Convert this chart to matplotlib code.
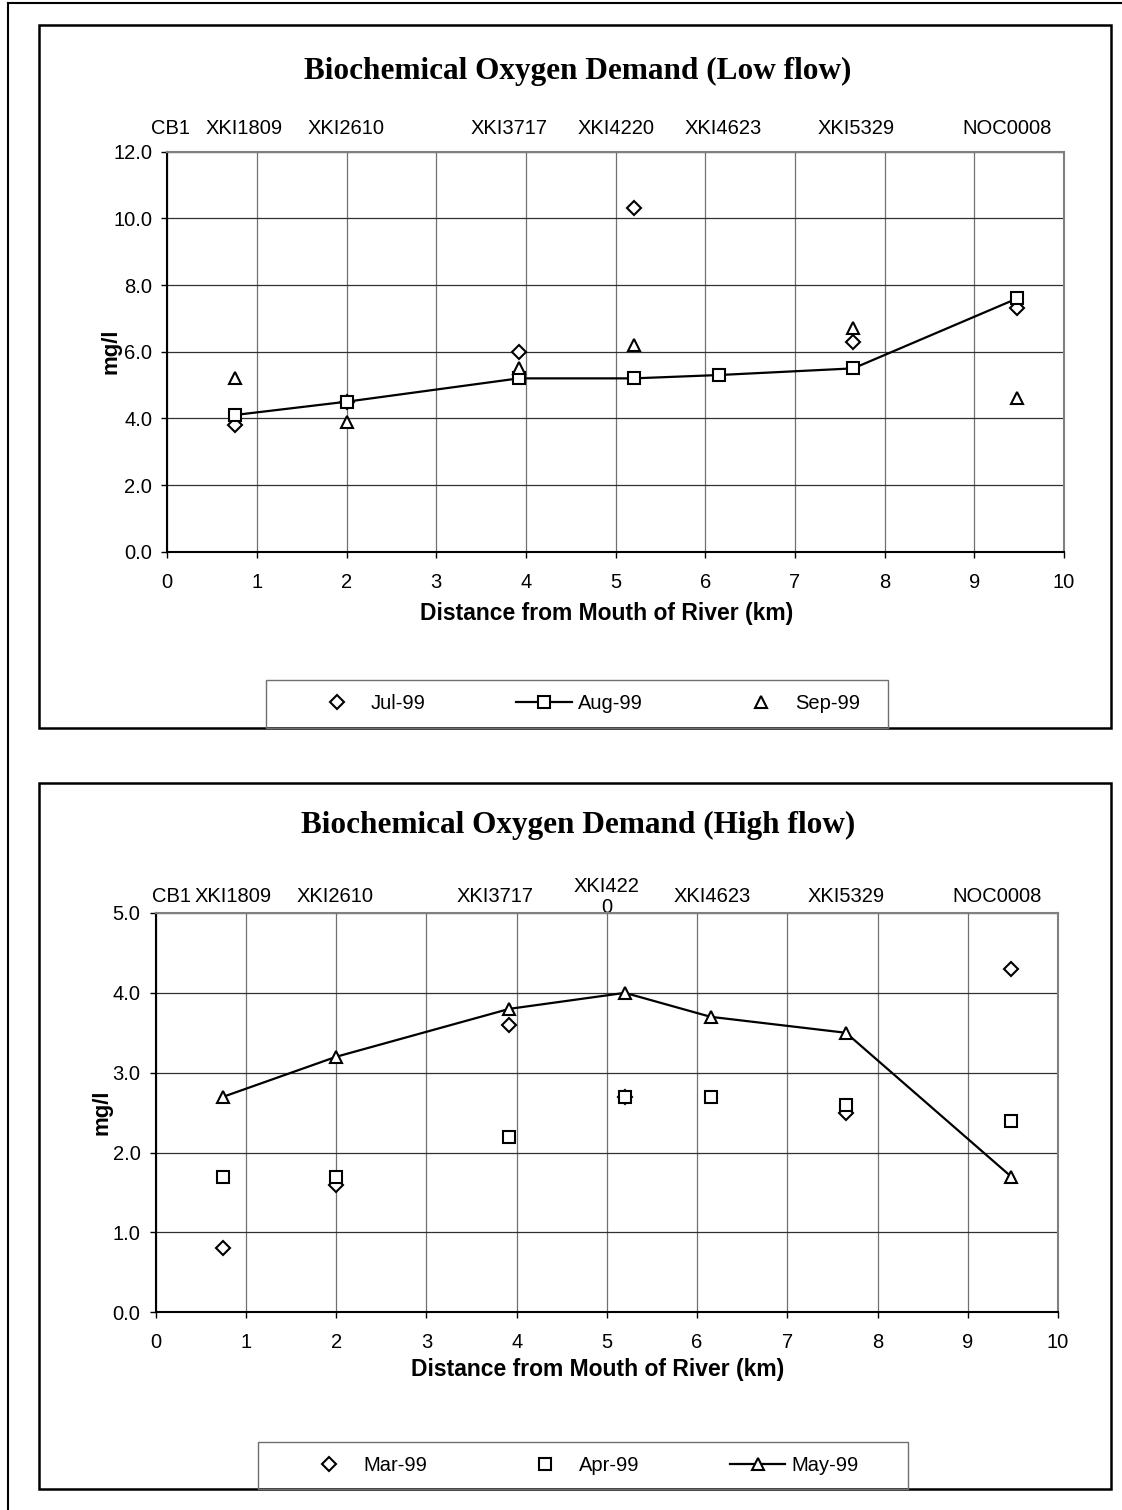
import matplotlib
matplotlib.use("Agg")
import matplotlib.pyplot as plt
import matplotlib.transforms as mtransforms
from matplotlib.patches import Rectangle
from matplotlib.lines import Line2D
import numpy as np

W, H, DPI = 1122, 1510, 100

# ---------------- data ----------------
station_km = [0.75, 2.0, 3.92, 5.2, 6.15, 7.65, 9.48]

low_jul = [3.8, 4.5, 6.0, 10.3, np.nan, 6.3, 7.3]
low_aug = [4.1, 4.5, 5.2, 5.2, 5.3, 5.5, 7.6]
low_sep = [5.2, 3.9, 5.5, 6.2, np.nan, 6.7, 4.6]

high_mar = [0.8, 1.6, 3.6, 2.7, np.nan, 2.5, 4.3]
high_apr = [1.7, 1.7, 2.2, 2.7, 2.7, 2.6, 2.4]
high_may = [2.7, 3.2, 3.8, 4.0, 3.7, 3.5, 1.7]

low_labels = ["CB1", "XKI1809", "XKI2610", "XKI3717", "XKI4220", "XKI4623", "XKI5329", "NOC0008"]
low_label_km = [0.04, 0.86, 1.99, 3.81, 5.0, 6.2, 7.68, 9.37]
high_labels = ["CB1", "XKI1809", "XKI2610", "XKI3717", "XKI422\n0", "XKI4623", "XKI5329", "NOC0008"]
high_label_km = [0.17, 0.86, 1.99, 3.76, 5.0, 6.17, 7.65, 9.33]

low_title = "Biochemical Oxygen Demand (Low flow)"
high_title = "Biochemical Oxygen Demand (High flow)"
xlabel = "Distance from Mouth of River (km)"
ylabel = "mg/l"

SANS = "Liberation Sans"
SERIF = "Liberation Serif"
plt.rcParams["font.family"] = SANS

fig = plt.figure(figsize=(W / DPI, H / DPI), dpi=DPI)


def fx(x):
    return x / W


def fy(y):
    return 1 - y / H


def rect_px(x0, y0, x1, y1):
    return [fx(x0), fy(y1), (x1 - x0) / W, (y1 - y0) / H]


# outer page frame (left and top edges)
fig.add_artist(Line2D([fx(7.5), fx(7.5)], [fy(3.3), 0], transform=fig.transFigure,
                      color="black", lw=1.5))
fig.add_artist(Line2D([fx(7.5), 1], [fy(3.3), fy(3.3)], transform=fig.transFigure,
                      color="black", lw=1.5))

STY = dict(color="black", mec="black", mfc="white", mew=1.5)


def make_chart(box, axpos, ymax, ystep, series, title, title_y, labels, label_km,
               label_y, xlab_y, ylab_x, legbox, leg_start):
    # chart box
    bx0, by0, bx1, by1 = box
    fig.add_artist(Rectangle((fx(bx0), fy(by1)), (bx1 - bx0) / W, (by1 - by0) / H,
                             transform=fig.transFigure, fill=False, ec="black", lw=1.8))
    ax = fig.add_axes(rect_px(*axpos))
    ax.set_xlim(0, 10)
    ax.set_ylim(0, ymax)
    ax.set_xticks(np.arange(0, 11, 1))
    ax.set_yticks(np.arange(0, ymax + 0.001, ystep))
    ax.set_yticklabels([f"{v:.1f}" for v in np.arange(0, ymax + 0.001, ystep)])
    ax.xaxis.grid(True, color="#707070", lw=0.9)
    ax.yaxis.grid(True, color="#303030", lw=0.9)
    ax.set_axisbelow(True)
    for s in ["left", "bottom"]:
        ax.spines[s].set_color("black")
        ax.spines[s].set_linewidth(1.5)
    for s in ["top", "right"]:
        ax.spines[s].set_color("#808080")
        ax.spines[s].set_linewidth(1.5)
    ax.tick_params(axis="both", direction="out", length=4, width=1, labelsize=14.5,
                   colors="black")
    ax.tick_params(axis="x", pad=11)
    ax.tick_params(axis="y", pad=7)

    handles = []
    for vals, name, marker, ms, ls in series:
        h, = ax.plot(station_km, vals, marker=marker, ms=ms, ls=ls, lw=1.6,
                     label=name, clip_on=False, **STY)
        handles.append(h)

    # title
    fig.text(fx(578), fy(title_y), title, ha="center", va="center",
             family=SERIF, fontweight="bold", fontsize=22.5)

    # station labels (behind the plot area)
    trans = mtransforms.blended_transform_factory(ax.transData, fig.transFigure)
    for lab, km in zip(labels, label_km):
        fig.text(km, fy(label_y), lab, transform=trans, ha="center", va="center",
                 fontsize=14.5, linespacing=1.15, zorder=-1)

    # axis labels
    ax.set_xlabel(xlabel, fontsize=16.5, fontweight="bold", va="center")
    ax_top, ax_bot = axpos[1], axpos[3]
    ax.xaxis.set_label_coords(0.49, (ax_bot - xlab_y) / (ax_bot - ax_top))
    ax.set_ylabel(ylabel, fontsize=16, fontweight="bold", va="center")
    ax.yaxis.set_label_coords((ylab_x - axpos[0]) / (axpos[2] - axpos[0]), 0.5)

    # legend
    lx0, ly0, lx1, ly1 = legbox
    fig.add_artist(Rectangle((fx(lx0), fy(ly1)), (lx1 - lx0) / W, (ly1 - ly0) / H,
                             transform=fig.transFigure, fill=False, ec="#707070", lw=1.0))
    fig.legend(handles=handles, loc="center left",
               bbox_to_anchor=(fx(leg_start), fy((ly0 + ly1) / 2)),
               ncol=3, frameon=False, borderpad=0, borderaxespad=0,
               handlelength=2.75, handletextpad=0.3, columnspacing=4.5,
               fontsize=14.5, numpoints=1)
    return ax


make_chart(box=(39.4, 25, 1111, 727.7),
           axpos=(167.3, 151.7, 1064, 551.7), ymax=12, ystep=2,
           series=[(low_jul, "Jul-99", "D", 7, "none"),
                   (low_aug, "Aug-99", "s", 8.5, "-"),
                   (low_sep, "Sep-99", "^", 8.0, "none")],
           title=low_title, title_y=71.7,
           labels=low_labels, label_km=low_label_km, label_y=128.3,
           xlab_y=613.3, ylab_x=111, 
           legbox=(266, 680, 888, 727.7), leg_start=309.5)

make_chart(box=(39.4, 783.3, 1111, 1489.3),
           axpos=(155.8, 913, 1058, 1312.3), ymax=5, ystep=1,
           series=[(high_mar, "Mar-99", "D", 7, "none"),
                   (high_apr, "Apr-99", "s", 8.5, "none"),
                   (high_may, "May-99", "^", 8.0, "-")],
           title=high_title, title_y=825,
           labels=high_labels, label_km=high_label_km, label_y=897,
           xlab_y=1369.3, ylab_x=102,
           legbox=(258, 1442.3, 908, 1489.3), leg_start=301.5)

fig.savefig("out.png", dpi=DPI)
